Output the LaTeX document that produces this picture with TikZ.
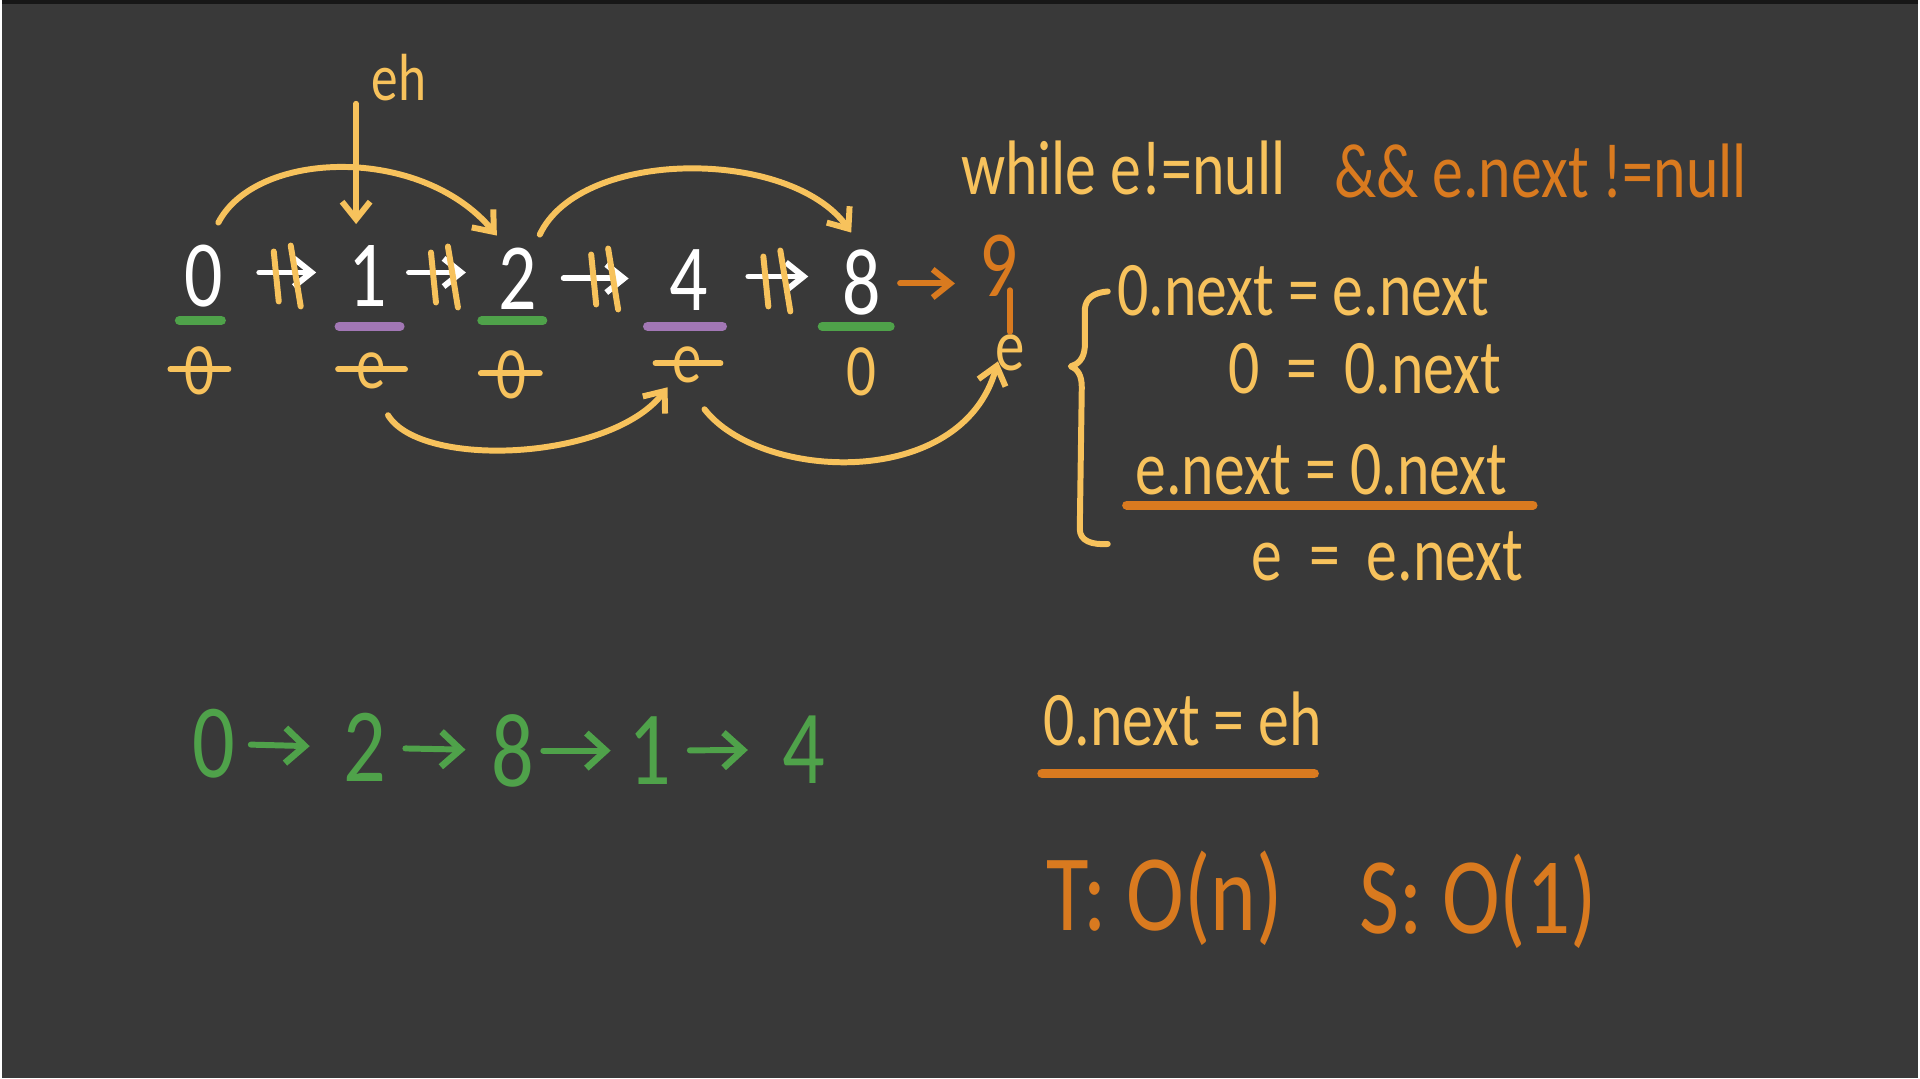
\documentclass[tikz,border=0pt]{standalone}
\usepackage{fontspec}
\setmainfont{Carlito}[FakeStretch=0.8]
\usetikzlibrary{arrows.meta,calc}
\definecolor{bgc}{HTML}{393939}
\definecolor{ylw}{HTML}{F7C25C}
\definecolor{org}{HTML}{D97A1F}
\definecolor{grn}{HTML}{4FA24A}
\definecolor{prp}{HTML}{A277B5}
\tikzset{
  x=0.01cm, y=-0.01cm,
  pen/.style={line width=1.7pt, line cap=round, line join=round},
  barb/.style={-{Straight Barb[length=5pt,width=8pt,line width=1.7pt]}},
  gbarb/.style={-{Straight Barb[length=5.5pt,width=10pt,line width=1.9pt]}},
  txt/.style={inner sep=0pt, outer sep=0pt},
  fs/.style={font=\fontsize{#1}{#1}\selectfont},
  wdig/.style={txt, fs=27pt, text=white},
  lab/.style={txt, fs=21pt, text=ylw},
  gdig/.style={txt, fs=30pt, text=grn},
  code/.style={txt, fs=22pt, text=ylw},
  slash/.style={pen, ylw},
  uline/.style={line width=2.6pt, line cap=round},
}
\begin{document}
\begin{tikzpicture}
\fill[bgc] (0,0) rectangle (1920,1080);
\draw[black!60!bgc, line width=1pt] (0,2) -- (1920,2);

% ---- top row of nodes
\node[wdig] (n0) at (202,277) {0};
\node[wdig] (n1) at (367,277) {1};
\node[wdig] (n2) at (517,279) {2};
\node[wdig] (n4) at (688,281) {4};
\node[wdig] (n8) at (862,283) {8};
\node[txt, fs=27pt, text=org] (n9) at (999,266) {9};

% crossed arrows
\draw[pen, white, barb] ($(n0)+(56,-4)$) -- ($(n1)+(-52,-4)$);
\draw[pen, white, barb] ($(n1)+(41,-4)$) -- ($(n2)+(-52,-6)$);
\draw[pen, white, barb] ($(n2)+(46,0)$) -- ($(n4)+(-60,-2)$);
\draw[pen, white, barb] ($(n4)+(60,-4)$) -- ($(n8)+(-54,-6)$);
\draw[pen, org, barb] ($(n8)+(38,1)$) -- ($(n9)+(-44,18)$);

\foreach \a/\b in {n0/n1,n1/n2,n2/n4,n4/n8}{
  \draw[slash] ($(\a)!.5!(\b)+(-12,-25)$) -- ++(5,50);
  \draw[slash] ($(\a)!.5!(\b)+(5,-31)$) -- ++(10,61);
}

% underlines
\draw[uline, grn] (178,321) -- (220,321);
\draw[uline, prp] (338,327) -- (399,327);
\draw[uline, grn] (481,321) -- (542,321);
\draw[uline, prp] (647,327) -- (722,327);
\draw[uline, grn] (822,327) -- (890,327);

% labels below
\node[lab] (l0) at (198,372) {0};
\node[lab] (l1) at (370,372) {e};
\node[lab] (l2) at (511,376) {0};
\node[lab] (l4) at (687,366) {e};
\node[lab] (l8) at (861,373) {0};
\node[lab] (l9) at (1010,354) {e};
\draw[slash] (169,370) -- (227,370);
\draw[slash] (337,370) -- (404,370);
\draw[slash] (480,374) -- (539,374);
\draw[slash] (655,364) -- (720,364);
\draw[pen, org] ($(l9.north |- n9.south)+(0,-6)$) -- ([yshift=1pt]l9.north);

% eh pointer
\node[txt, fs=19pt, text=ylw] (eh) at (398,78) {eh};
\coordinate (ehs) at (355,104);
\draw[pen, ylw, barb] (ehs) -- ($(ehs |- n1.north)+(0,-22)$);

% upper arcs
\draw[pen, ylw, barb] ($(n0)+(15,-54)$) .. controls (255,150) and (420,145) .. ($(n2)+(-21,-43)$);
\draw[pen, ylw, barb] ($(n2)+(22,-44)$) .. controls (580,148) and (790,148) .. ($(n8)+(-11,-50)$);

% lower arcs
\draw[pen, ylw, barb] ($(l1)+(17,44)$) .. controls (420,470) and (610,462) .. ($(l4)+(-20,22)$);
\draw[pen, ylw, barb] ($(l4)+(17,44)$) .. controls (760,482) and (962,492) .. ($(l9)+(-12,8)$);

% ---- code on the right
\node[code, anchor=west] (w1) at (961,168) {while e!=null};
\node[code, anchor=west, text=org] (w2) at (1335,171) {\&\& e.next !=null};

\draw[pen, ylw] (1108,292) .. controls (1095,293) and (1086,298) .. (1085,310) -- (1085,348)
  .. controls (1084,360) and (1078,365) .. (1071,367)
  .. controls (1078,370) and (1082,376) .. (1082,388) -- (1080,530)
  .. controls (1080,542) and (1092,546) .. (1108,545);

\node[code] (c1) at (1304,291) {0.next = e.next};
\node[code, anchor=east] (c2) at (1502,369) {0\,\ =\ \,0.next};
\node[code] (c3) at (1322,471) {e.next = 0.next};
\draw[uline, org] (1127,506) -- (1534,506);
\node[code, anchor=east] (c4) at (1524,557) {e\ \,=\ \,e.next};

\node[code] (c5) at (1183,720) {0.next = eh};
\draw[uline, org] (1042,775) -- (1315,775);

\node[txt, fs=31pt, text=org, anchor=west] (t1) at (1047,900) {T: O(n)};
\node[txt, fs=31pt, text=org, anchor=west] (t2) at (1360,903) {S: O(1)};

% ---- green result list
\node[gdig] (g0) at (212,745) {0};
\node[gdig] (g2) at (364,749) {2};
\node[gdig] (g8) at (512,752) {8};
\node[gdig] (g1) at (649,752) {1};
\node[gdig] (g4) at (804,751) {4};
\draw[pen, grn, gbarb, shorten <=4.6pt, shorten >=9.7pt] (g0) -- (g2);
\draw[pen, grn, gbarb, shorten <=5.4pt, shorten >=7.4pt] (g2) -- (g8);
\draw[pen, grn, gbarb, shorten <=2.6pt, shorten >=5pt] (g8) -- (g1);
\draw[pen, grn, gbarb, shorten <=5.4pt, shorten >=10pt] (g1) -- (g4);
\end{tikzpicture}
\end{document}
